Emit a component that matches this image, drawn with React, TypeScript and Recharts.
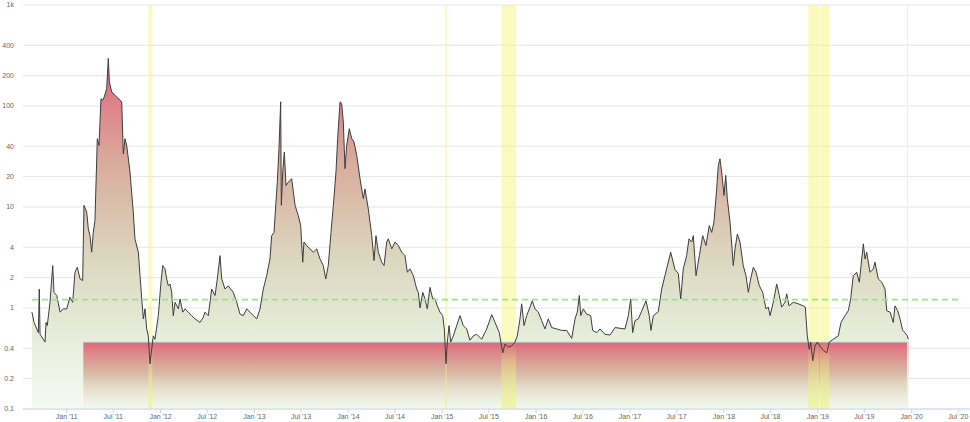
import React from 'react';
import {
  ComposedChart,
  Area,
  Line,
  XAxis,
  YAxis,
  CartesianGrid,
  ReferenceArea,
  ReferenceLine,
} from 'recharts';

// reading dates as decimal years
const years = [
  2010.63, 2010.652, 2010.698, 2010.708, 2010.716, 2010.769, 2010.78, 2010.793, 2010.822, 2010.851,
  2010.865, 2010.894, 2010.929, 2010.964, 2011.0, 2011.035, 2011.064, 2011.088, 2011.113, 2011.142,
  2011.17, 2011.184, 2011.213, 2011.23, 2011.248, 2011.266, 2011.283, 2011.301, 2011.326, 2011.344,
  2011.365, 2011.383, 2011.4, 2011.426, 2011.443, 2011.454, 2011.479, 2011.514, 2011.568, 2011.586,
  2011.603, 2011.621, 2011.639, 2011.674, 2011.709, 2011.727, 2011.763, 2011.781, 2011.799, 2011.816,
  2011.834, 2011.852, 2011.869, 2011.887, 2011.905, 2011.922, 2011.94, 2011.976, 2012.001, 2012.022,
  2012.047, 2012.065, 2012.082, 2012.1, 2012.118, 2012.135, 2012.154, 2012.189, 2012.207, 2012.236,
  2012.26, 2012.295, 2012.331, 2012.367, 2012.42, 2012.455, 2012.473, 2012.508, 2012.544, 2012.58,
  2012.604, 2012.633, 2012.651, 2012.686, 2012.721, 2012.774, 2012.811, 2012.846, 2012.881, 2012.917,
  2012.952, 2012.987, 2013.024, 2013.059, 2013.094, 2013.13, 2013.165, 2013.183, 2013.208, 2013.229,
  2013.243, 2013.261, 2013.279, 2013.286, 2013.301, 2013.318, 2013.336, 2013.36, 2013.396, 2013.432,
  2013.467, 2013.492, 2013.514, 2013.527, 2013.556, 2013.591, 2013.627, 2013.663, 2013.698, 2013.733,
  2013.759, 2013.786, 2013.815, 2013.84, 2013.868, 2013.886, 2013.911, 2013.929, 2013.946, 2013.964,
  2013.982, 2014.01, 2014.036, 2014.06, 2014.089, 2014.124, 2014.159, 2014.177, 2014.212, 2014.249,
  2014.273, 2014.294, 2014.319, 2014.355, 2014.38, 2014.408, 2014.425, 2014.462, 2014.497, 2014.532,
  2014.568, 2014.603, 2014.628, 2014.656, 2014.692, 2014.728, 2014.745, 2014.763, 2014.792, 2014.816,
  2014.841, 2014.869, 2014.898, 2014.923, 2014.947, 2014.976, 2015.005, 2015.022, 2015.04, 2015.054,
  2015.072, 2015.09, 2015.118, 2015.154, 2015.189, 2015.224, 2015.26, 2015.295, 2015.331, 2015.367,
  2015.42, 2015.473, 2015.527, 2015.562, 2015.608, 2015.644, 2015.668, 2015.703, 2015.74, 2015.775,
  2015.799, 2015.828, 2015.846, 2015.871, 2015.899, 2015.935, 2015.959, 2015.988, 2016.023, 2016.059,
  2016.094, 2016.129, 2016.166, 2016.219, 2016.272, 2016.325, 2016.379, 2016.414, 2016.438, 2016.46,
  2016.475, 2016.502, 2016.538, 2016.581, 2016.602, 2016.645, 2016.68, 2016.733, 2016.787, 2016.84,
  2016.893, 2016.946, 2016.982, 2017.007, 2017.028, 2017.053, 2017.088, 2017.124, 2017.17, 2017.205,
  2017.223, 2017.248, 2017.301, 2017.337, 2017.372, 2017.407, 2017.433, 2017.479, 2017.514, 2017.54,
  2017.567, 2017.603, 2017.628, 2017.657, 2017.674, 2017.703, 2017.738, 2017.774, 2017.809, 2017.844,
  2017.87, 2017.894, 2017.923, 2017.94, 2017.958, 2017.976, 2018.001, 2018.019, 2018.036, 2018.065,
  2018.1, 2018.118, 2018.143, 2018.171, 2018.206, 2018.235, 2018.26, 2018.285, 2018.313, 2018.342,
  2018.377, 2018.413, 2018.448, 2018.473, 2018.491, 2018.526, 2018.562, 2018.59, 2018.615, 2018.651,
  2018.669, 2018.693, 2018.739, 2018.792, 2018.845, 2018.867, 2018.888, 2018.909, 2018.924, 2018.946,
  2018.97, 2018.995, 2019.023, 2019.059, 2019.095, 2019.122, 2019.165, 2019.218, 2019.247, 2019.29,
  2019.325, 2019.35, 2019.378, 2019.414, 2019.442, 2019.468, 2019.485, 2019.503, 2019.521, 2019.556,
  2019.591, 2019.609, 2019.644, 2019.681, 2019.716, 2019.734, 2019.769, 2019.804, 2019.822, 2019.851,
  2019.876, 2019.904, 2019.929, 2019.953, 2019.964,
];

const ratio = [
  0.91, 0.72, 0.57, 1.54, 0.55, 0.46, 0.72, 0.67, 1.14, 2.63,
  1.43, 1.33, 0.91, 0.98, 0.98, 1.28, 1.14, 2.26, 2.53, 1.94,
  1.87, 10.4, 8.9, 6.1, 5.2, 3.57, 5.6, 7.35, 47.5, 40.7,
  118, 114, 123, 149, 296, 174, 138, 128, 114, 110,
  33.6, 47.5, 40.7, 22.2, 8.9, 4.84, 3.57, 2.09, 1.23, 0.78,
  0.98, 0.62, 0.53, 0.28, 0.39, 0.53, 0.49, 0.84, 1.66, 2.63,
  2.44, 1.94, 1.66, 1.73, 1.43, 0.84, 1.14, 0.98, 1.23, 0.91,
  0.98, 0.91, 0.84, 0.78, 0.72, 0.81, 0.91, 0.84, 1.54, 1.33,
  1.94, 3.3, 1.94, 1.54, 1.66, 1.43, 1.14, 0.87, 0.84, 0.98,
  0.91, 0.84, 0.78, 0.98, 1.54, 2.09, 3.06, 5.2, 5.6, 11.2,
  17.6, 38, 110, 10.4, 22.2, 35, 16.3, 17.6, 19.1, 10.4,
  8.2, 6.55, 2.84, 4.5, 4.16, 3.85, 3.57, 3.85, 3.06, 2.63,
  1.94, 2.63, 5.6, 10.4, 22.2, 47.5, 110, 106, 69.5, 24,
  40.7, 59.6, 47.5, 44, 32.5, 19.1, 12.1, 15.1, 9.6, 5.2,
  2.95, 5.2, 3.57, 2.84, 2.63, 4.5, 4.84, 3.85, 4.5, 4.16,
  3.57, 3.3, 2.26, 2.44, 2.09, 1.54, 1.43, 1.0, 1.43, 1.23,
  0.98, 1.6, 1.23, 1.23, 1.05, 0.91, 0.84, 0.62, 0.28, 0.46,
  0.67, 0.46, 0.53, 0.67, 0.84, 0.67, 0.62, 0.48, 0.53, 0.55,
  0.49, 0.62, 0.86, 0.72, 0.57, 0.36, 0.44, 0.41, 0.42, 0.46,
  0.53, 0.78, 1.1, 0.67, 0.84, 1.02, 1.18, 0.98, 0.91, 0.75,
  0.62, 0.78, 0.64, 0.62, 0.6, 0.6, 0.5, 0.78, 0.91, 1.33,
  0.84, 0.98, 0.87, 0.84, 0.6, 0.57, 0.62, 0.55, 0.54, 0.64,
  0.63, 0.62, 0.84, 1.23, 0.57, 0.75, 0.78, 0.93, 1.18, 0.84,
  0.6, 0.84, 0.92, 1.54, 2.09, 2.84, 3.57, 2.4, 2.2, 1.23,
  2.44, 3.3, 4.84, 4.5, 5.2, 2.09, 3.3, 5.2, 4.16, 6.55,
  5.6, 7.1, 15.2, 25.8, 30, 22.2, 13, 20.6, 12.1, 7.1,
  2.63, 3.85, 5.4, 4.5, 2.63, 2.09, 1.43, 1.94, 2.53, 2.26,
  1.66, 1.43, 0.98, 1.02, 0.84, 1.14, 1.73, 1.33, 1.02, 1.14,
  1.38, 1.05, 1.14, 1.1, 1.05, 1.02, 0.53, 0.39, 0.46, 0.3,
  0.42, 0.46, 0.42, 0.38, 0.36, 0.46, 0.49, 0.53, 0.72, 0.84,
  0.94, 1.23, 2.09, 2.26, 1.8, 3.06, 4.32, 3.06, 3.57, 2.26,
  2.44, 2.84, 1.94, 1.8, 1.54, 0.94, 0.91, 0.72, 1.05, 0.94,
  0.78, 0.6, 0.57, 0.53, 0.49,
];

const yTicks = [0.1, 0.2, 0.4, 1, 2, 4, 10, 20, 40, 100, 200, 400, 1000];
const xTicks = [
  2011, 2011.496, 2012, 2012.497, 2013, 2013.496, 2014, 2014.496, 2015, 2015.496,
  2016, 2016.497, 2017, 2017.496, 2018, 2018.496, 2019, 2019.496, 2020, 2020.497,
];

// highlighted periods
const bandStart = [2011.869, 2015.029, 2015.629, 2018.899, 2019.023];
const bandEnd = [2011.912, 2015.05, 2015.786, 2019.013, 2019.122];

// low zone
const zoneStart = 2011.177;
const zoneEnd = 2019.964;
const zoneTop = 0.457;

const threshold = 1.21;
const thresholdStart = 2010.63;
const thresholdEnd = 2020.515;

const data = years.map((t, i) => ({ t, v: ratio[i] }));

const fmtY = (v: number) => (v >= 1000 ? `${v / 1000}k` : String(v));
const fmtX = (t: number) => {
  const yr = Math.floor(t);
  const m = t - yr < 0.25 ? 'Jan' : 'Jul';
  return `${m} '${String(yr).slice(2)}`;
};

const tickStyle = { fontSize: 7, fill: '#666', fontFamily: '"Liberation Sans", Arial, sans-serif' };

export default function App() {
  return (
    <div style={{ position: 'absolute', left: 0, top: 0, background: '#fff' }}>
      <ComposedChart
        width={970}
        height={422}
        data={data}
        margin={{ top: 5, right: 0, bottom: 0, left: 0 }}
      >
        <defs>
          <linearGradient id="areaGrad" x1="0" y1="0" x2="0" y2="1">
            <stop offset="0%" stopColor="#e0647a" />
            <stop offset="30%" stopColor="#d9ac9e" />
            <stop offset="58%" stopColor="#dcd8c0" />
            <stop offset="80%" stopColor="#e6eedb" />
            <stop offset="100%" stopColor="#f5faf2" />
          </linearGradient>
          <linearGradient id="zoneGrad" x1="0" y1="0" x2="0" y2="1">
            <stop offset="0%" stopColor="#e0687a" stopOpacity={1} />
            <stop offset="45%" stopColor="#d4ad98" stopOpacity={0.85} />
            <stop offset="100%" stopColor="#dfe8c8" stopOpacity={0.1} />
          </linearGradient>
          <linearGradient id="bandLowGrad" x1="0" y1="0" x2="0" y2="1">
            <stop offset="0%" stopColor="#f3f36e" stopOpacity={0} />
            <stop offset="35%" stopColor="#eff278" stopOpacity={0.35} />
            <stop offset="100%" stopColor="#eef27a" stopOpacity={0.6} />
          </linearGradient>
        </defs>
        <CartesianGrid vertical={false} stroke="#e6e6e6" />
        <XAxis
          dataKey="t"
          type="number"
          domain={[2010.5345, 2020.621]}
          allowDataOverflow
          ticks={xTicks}
          tickFormatter={fmtX}
          tick={tickStyle}
          height={13}
          tickSize={4}
          tickMargin={1}
          stroke="#ccd6eb"
          tickLine={{ stroke: '#ccd6eb' }}
          interval={0}
        />
        <YAxis
          type="number"
          scale="log"
          domain={[0.1, 1000]}
          allowDataOverflow
          ticks={yTicks}
          tickFormatter={fmtY}
          tick={tickStyle}
          width={23}
          axisLine={false}
          tickLine={false}
          tickSize={6}
          tickMargin={3}
          interval={0}
        />
        <Area
          dataKey="v"
          type="linear"
          baseValue={0.1}
          stroke="none"
          fill="url(#areaGrad)"
          fillOpacity={1}
          isAnimationActive={false}
        />
        {bandStart.map((s, i) => (
          <ReferenceArea
            key={`hi-${i}`}
            x1={s}
            x2={bandEnd[i]}
            y1={zoneTop}
            y2={1000}
            fill="#f3f36e"
            fillOpacity={0.45}
            stroke="none"
          />
        ))}
        <ReferenceLine x={2019.955} stroke="#f3f3cf" strokeWidth={1} />
        <ReferenceArea
          x1={zoneStart}
          x2={zoneEnd}
          y1={0.1}
          y2={zoneTop}
          fill="url(#zoneGrad)"
          fillOpacity={1}
          stroke="none"
        />
        {bandStart.map((s, i) => (
          <ReferenceArea
            key={`lo-${i}`}
            x1={s}
            x2={bandEnd[i]}
            y1={0.1}
            y2={zoneTop}
            fill="url(#bandLowGrad)"
            fillOpacity={1}
            stroke="none"
          />
        ))}
        <ReferenceLine
          segment={[{ x: zoneStart, y: zoneTop }, { x: zoneEnd, y: zoneTop }]}
          stroke="#a9bfbd"
          strokeWidth={1}
        />
        <Line
          dataKey="v"
          type="linear"
          stroke="#3d3d3d"
          strokeWidth={1}
          dot={false}
          isAnimationActive={false}
        />
        <ReferenceLine
          segment={[{ x: thresholdStart, y: threshold }, { x: thresholdEnd, y: threshold }]}
          stroke="#9de38f"
          strokeWidth={1.8}
          strokeDasharray="6 4"
        />
      </ComposedChart>
    </div>
  );
}
